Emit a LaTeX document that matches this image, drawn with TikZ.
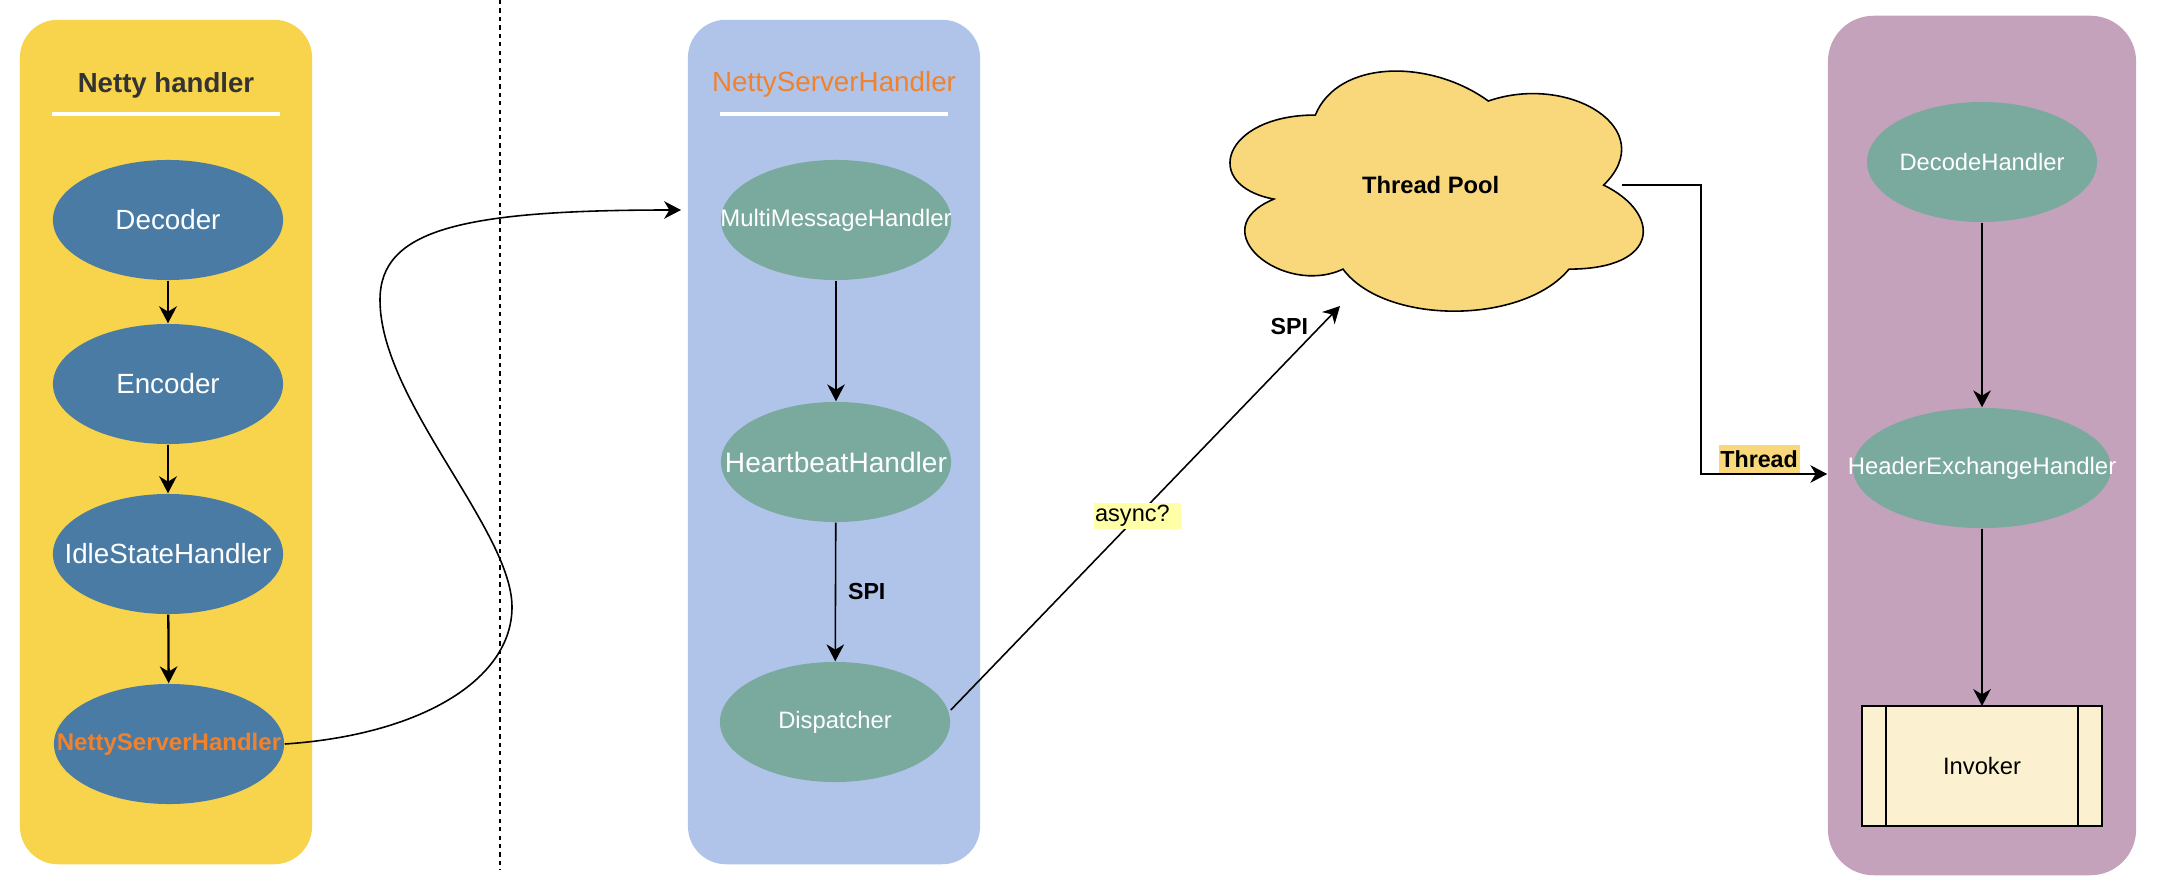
\documentclass[tikz,border=0pt]{standalone}
\usepackage{fontspec}
\setmainfont{Liberation Sans}
\usetikzlibrary{arrows.meta,shapes.geometric}

\definecolor{pnlyellow}{RGB}{247,212,75}
\definecolor{pnlblue}{RGB}{175,196,232}
\definecolor{pnlpurple}{RGB}{196,162,188}
\definecolor{elblue}{RGB}{74,123,165}
\definecolor{elgreen}{RGB}{122,169,158}
\definecolor{hdorange}{RGB}{240,130,45}
\definecolor{poolyellow}{RGB}{248,216,122}
\definecolor{invyellow}{RGB}{251,241,208}
\definecolor{asyncbg}{RGB}{255,255,168}
\definecolor{titlegray}{RGB}{51,51,51}

\newcommand{\fs}[1]{\fontsize{#1}{#1}\selectfont}
\newcommand{\inell}[1]{\makebox[0pt]{#1}}

\begin{document}
\begin{tikzpicture}[x=0.01cm,y=-0.01cm,
	panel/.style={rounded corners=10.8pt, minimum width=2.92cm, minimum height=8.44cm, inner sep=0pt},
	rule/.style={white, line width=0.95pt},
	hdl/.style={ellipse, inner sep=0pt, minimum width=2.3cm, minimum height=1.2cm, text=white},
	arr/.style={-{Stealth[length=4.8pt,width=5pt,inset=1.5pt]}, line width=0.45pt},
	arrL/.style={arr, line width=0.65pt},
	tag/.style={font=\bfseries\fs{6.6}}]
		\useasboundingbox (0,0) rectangle (2158,882);
		% Netty handler
		\node[panel, fill=pnlyellow] (nettyBox) at (166,442) {};
		\node[text=titlegray, font=\bfseries\fs{7.85}] (nettyTitle) at (166,85) {Netty handler};
		\draw[rule] (52,114) -- (280,114);
		\node[hdl, fill=elblue, font=\fs{7.9}] (dec) at (168,220) {\inell{Decoder}};
		\node[hdl, fill=elblue, font=\fs{7.9}] (enc) at (168,384) {\inell{Encoder}};
		\node[hdl, fill=elblue, font=\fs{7.9}] (idle) at (168,554) {\inell{IdleStateHandler}};
		\node[hdl, fill=elblue, text=hdorange, font=\bfseries\fs{6.83}] (nsh) at (169,744) {\inell{NettyServerHandler}};
		\draw[arrL] (dec) -- (enc);
		\draw[arrL] (enc) -- (idle);
		\draw[arrL] (idle) -- (nsh);
		\draw[dash pattern=on 1.2pt off 1.2pt, line width=0.55pt] (500,0) -- (500,870);
		% NettyServerHandler
		\node[panel, fill=pnlblue] (serverBox) at (834,442) {};
		\node[text=hdorange, font=\fs{7.9}] (serverTitle) at (834,84) {NettyServerHandler};
		\draw[rule] (720,114) -- (948,114);
		\node[hdl, fill=elgreen, font=\fs{6.8}] (mmh) at (836,220) {\inell{MultiMessageHandler}};
		\node[hdl, fill=elgreen, font=\fs{8}] (hb) at (836,462) {\inell{HeartbeatHandler}};
		\node[hdl, fill=elgreen, font=\fs{6.75}] (disp) at (835,722) {\inell{Dispatcher}};
		\coordinate (serverIn) at (681,210);
		\draw[arr] (nsh.east) .. controls (420,735) and (512,680) .. (512,607)
			.. controls (512,530) and (380,400) .. (380,300)
			.. controls (380,230) and (460,210) .. (serverIn);
		\draw[arr] (mmh) -- (hb);
		\draw[arr] (hb) -- node[midway,right,tag] {SPI} (disp);
		% Thread Pool
		\begin{scope}[shift={(1200,45)}, x=4.61cm, y=-2.8cm]
		\draw[fill=poolyellow, line width=0.45pt] (0.25,0.25) .. controls (0.05,0.25) and (0,0.5) .. (0.16,0.55)
			.. controls (0,0.66) and (0.18,0.9) .. (0.31,0.8) .. controls (0.4,1) and (0.7,1) .. (0.8,0.8)
			.. controls (1,0.8) and (1,0.6) .. (0.875,0.5) .. controls (1,0.3) and (0.8,0.1) .. (0.625,0.2)
			.. controls (0.5,0.05) and (0.3,0.05) .. (0.25,0.25) -- cycle;
		\node[font=\bfseries\fs{6.75}] (pool) at (0.5,0.5) {Thread Pool};
		\coordinate (poolOut) at (0.915,0.5);
		\end{scope}
		\coordinate (poolIn) at (1340,306);
		\draw[arr] ([yshift=0.12cm]disp.east) -- node[pos=0.48, fill=asyncbg, font=\fs{6.7}, text width=0.85cm, align=left, inner xsep=0.3pt, inner ysep=0.7pt] {async?}
			node[pos=0.95,left,tag] {SPI} (poolIn);
		% exchange side
		\node[panel, fill=pnlpurple, rounded corners=13pt, minimum width=3.08cm, minimum height=8.59cm] (exchBox) at (1982,445.5) {};
		\node[hdl, fill=elgreen, font=\fs{6.75}] (dech) at (1982,162) {\inell{DecodeHandler}};
		\node[hdl, fill=elgreen, minimum width=2.58cm, font=\fs{6.8}] (hex) at (1982,468) {\inell{HeaderExchangeHandler}};
		\node[draw, line width=0.65pt, outer sep=0pt, fill=invyellow, minimum width=2.4cm, minimum height=1.2cm, font=\fs{6.75}] (inv) at (1982,766) {Invoker};
		\draw[line width=0.65pt] ([xshift=0.24cm]inv.north west) -- ([xshift=0.24cm]inv.south west)
			([xshift=-0.24cm]inv.north east) -- ([xshift=-0.24cm]inv.south east);
		\draw[arr] (dech) -- (hex);
		\draw[arr] (hex) -- (inv);
		\draw[arr] (poolOut) -- ++(79,0) |- node[pos=0.73, above, fill=poolyellow, tag, inner xsep=0.5pt, inner ysep=1.6pt] {Thread} ([yshift=-0.06cm]exchBox.west |- hex.west);
\end{tikzpicture}
\end{document}
